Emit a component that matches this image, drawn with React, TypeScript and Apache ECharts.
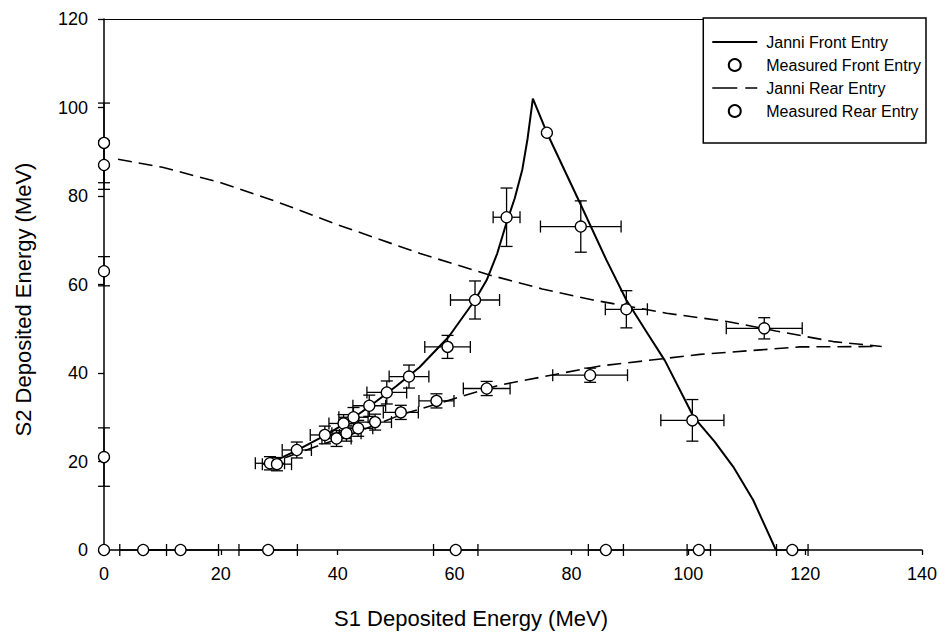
import React, { useEffect, useRef } from "react";
import * as echarts from "echarts";

// Janni Front Entry curve (S1, S2)
const janniFrontS1 = [28.1, 33, 38, 42, 46, 50, 54, 59, 63.5, 65.5, 67.3, 68.9, 70.3, 71.6, 72.5, 73.4, 75.8, 81.5, 86, 89.4, 93, 96, 100.9, 104.5, 107.7, 111.1, 115];
const janniFrontS2 = [19.4, 22.5, 26, 29.2, 33, 37, 41.3, 48.2, 56.5, 61, 67, 74, 79.5, 86, 93, 102, 94.3, 78.3, 65.5, 56.5, 49, 42.8, 30.1, 24.5, 18.8, 11.3, 0];

// Janni Rear Entry curve (S1, S2)
const janniRearS1 = [2.4, 10, 20, 30, 40, 54.1, 66.1, 75, 83.7, 96.3, 106.9, 115, 124.8, 133.1, 119.1, 102, 84.9, 67.8, 59.2, 50.7, 42.1, 33.5, 28.1];
const janniRearS2 = [88.3, 86.5, 83, 78.5, 73.5, 67, 62.1, 59, 56.5, 53.5, 51.6, 49.5, 47.1, 46, 45.9, 44.2, 41.6, 37.3, 33.9, 30.5, 26, 22.1, 19.4];

// Measured Front Entry
const frontS1 = [28.4, 33, 37.8, 41, 42.7, 45.4, 48.4, 52.2, 58.8, 63.5, 68.9, 75.8, 81.6, 89.4, 100.7, 0, 0, 0, 0, 13.1, 28.1, 60.2, 101.8, 117.8];
const frontS2 = [19.6, 22.6, 26, 28.6, 30, 32.6, 35.6, 39.2, 45.9, 56.5, 75.2, 94.3, 73.1, 54.4, 29.3, 92, 63, 21, 0, 0, 0, 0, 0, 0];
const frontS1Err = [2.5, 2.5, 2.5, 2.5, 2.5, 2.8, 3.4, 3.4, 3.9, 4.2, 2.3, 0, 6.9, 3.6, 5.4, 0, 0, 0, 0, 6.5, 5, 3.8, 2, 2.7];
const frontS2Err = [1.5, 1.8, 2, 2, 2.2, 2.4, 2.6, 2.6, 2.6, 4.3, 6.6, 0, 5.8, 4.2, 4.7, 9, 3.3, 6.6, 0, 0, 0, 0, 0, 0];

// Measured Rear Entry
const rearS1 = [29.6, 39.8, 41.5, 43.5, 46.4, 50.8, 56.9, 65.5, 83.2, 113, 0, 6.7, 85.9];
const rearS2 = [19.4, 25.2, 26.4, 27.5, 28.9, 31.1, 33.7, 36.5, 39.5, 50.1, 87, 0, 0];
const rearS1Err = [2.5, 2.5, 2.5, 2.5, 2.8, 3, 3, 4, 6.4, 6.5, 0, 4, 3];
const rearS2Err = [1.5, 1.8, 1.8, 1.8, 1.8, 1.6, 1.6, 1.6, 1.6, 2.4, 5.5, 0, 0];

const xMin = 0, xMax = 140, xStep = 20;
const yMin = 0, yMax = 120, yStep = 20;

const FONT = "'Liberation Sans', Arial, sans-serif";

const zip = (a: number[], b: number[]) => a.map((v, i) => [v, b[i]]);
const zip4 = (a: number[], b: number[], c: number[], d: number[]) => a.map((v, i) => [v, b[i], c[i], d[i]]);

export default function App() {
  const ref = useRef<HTMLDivElement>(null);
  useEffect(() => {
    const chart = echarts.init(ref.current!, null, { renderer: "svg" });
    const errStyle = { stroke: "#000", lineWidth: 1.3 };
    const cap = 6;
    const renderErr = (_p: any, api: any) => {
      const x = api.value(0), y = api.value(1), ex = api.value(2), ey = api.value(3);
      const c = api.coord([x, y]);
      const children: any[] = [];
      if (ex > 0) {
        const l = api.coord([x - ex, y]);
        const r = api.coord([x + ex, y]);
        children.push({ type: "line", shape: { x1: l[0], y1: c[1], x2: r[0], y2: c[1] }, style: errStyle });
        children.push({ type: "line", shape: { x1: l[0], y1: c[1] - cap, x2: l[0], y2: c[1] + cap }, style: errStyle });
        children.push({ type: "line", shape: { x1: r[0], y1: c[1] - cap, x2: r[0], y2: c[1] + cap }, style: errStyle });
      }
      if (ey > 0) {
        const t = api.coord([x, y + ey]);
        const b = api.coord([x, y - ey]);
        children.push({ type: "line", shape: { x1: c[0], y1: t[1], x2: c[0], y2: b[1] }, style: errStyle });
        children.push({ type: "line", shape: { x1: c[0] - cap, y1: t[1], x2: c[0] + cap, y2: t[1] }, style: errStyle });
        children.push({ type: "line", shape: { x1: c[0] - cap, y1: b[1], x2: c[0] + cap, y2: b[1] }, style: errStyle });
      }
      return { type: "group", children };
    };
    const markerStyle = { color: "#fff", borderColor: "#000", borderWidth: 1.3, opacity: 1 };
    const option: any = {
      animation: false,
      backgroundColor: "#fff",
      textStyle: { fontFamily: FONT },
      grid: { left: 104, top: 19, right: 23, bottom: 86, containLabel: false },
      legend: {
        orient: "vertical",
        right: 19,
        top: 18,
        padding: [16, 5, 24, 9],
        itemGap: 7,
        itemWidth: 45,
        itemHeight: 12,
        borderColor: "#000",
        borderWidth: 1.5,
        backgroundColor: "#fff",
        textStyle: { fontFamily: FONT, fontSize: 16, color: "#000", padding: [0, 0, 0, 4] },
        data: [
          { name: "Janni Front Entry", icon: "path://M0,0H45V2H0Z" },
          { name: "Measured Front Entry" },
          { name: "Janni Rear Entry", icon: "path://M0,0H25V1.6H0Z M33,0H45V1.6H33Z" },
          { name: "Measured Rear Entry" },
        ],
      },
      xAxis: [
        {
          type: "value",
          min: xMin,
          max: xMax,
          interval: xStep,
          name: "S1 Deposited Energy (MeV)",
          nameLocation: "middle",
          nameGap: 57,
          nameTextStyle: { fontFamily: FONT, fontSize: 22, color: "#000", padding: [0, 84, 0, 0] },
          axisLine: { show: true, lineStyle: { color: "#000", width: 1.5 } },
          axisTick: { show: true, length: 5, lineStyle: { color: "#000", width: 1.3 } },
          axisLabel: { fontFamily: FONT, fontSize: 18, color: "#000", margin: 15 },
          splitLine: { show: false },
        },
        {
          type: "value",
          position: "top",
          min: xMin,
          max: xMax,
          interval: xStep,
          axisLine: { show: true, onZero: false, lineStyle: { color: "#000", width: 1.2 } },
          axisTick: { show: false },
          axisLabel: { show: false },
          splitLine: { show: false },
        },
      ],
      yAxis: {
        type: "value",
        min: yMin,
        max: yMax,
        interval: yStep,
        name: "S2 Deposited Energy (MeV)",
        nameLocation: "middle",
        nameGap: 70,
        nameTextStyle: { fontFamily: FONT, fontSize: 22, color: "#000", padding: [0, 30, 0, 0] },
        axisLine: { show: true, lineStyle: { color: "#000", width: 1.5 } },
        axisTick: { show: true, length: 6, lineStyle: { color: "#000", width: 1.3 } },
        axisLabel: { fontFamily: FONT, fontSize: 18, color: "#000", margin: 16 },
        splitLine: { show: false },
      },
      series: [
        {
          name: "Janni Front Entry",
          type: "line",
          data: zip(janniFrontS1, janniFrontS2),
          symbol: "none",
          lineStyle: { color: "#000", width: 2 },
          itemStyle: { color: "#000" },
          z: 2,
        },
        {
          name: "Janni Rear Entry",
          type: "line",
          data: zip(janniRearS1, janniRearS2),
          symbol: "none",
          lineStyle: { color: "#000", width: 1.6, type: [14, 7] },
          itemStyle: { color: "#000" },
          z: 2,
        },
        {
          name: "frontErr",
          type: "custom",
          renderItem: renderErr,
          encode: { x: 0, y: 1 },
          data: zip4(frontS1, frontS2, frontS1Err, frontS2Err),
          clip: false,
          z: 3,
        },
        {
          name: "rearErr",
          type: "custom",
          renderItem: renderErr,
          encode: { x: 0, y: 1 },
          data: zip4(rearS1, rearS2, rearS1Err, rearS2Err),
          clip: false,
          z: 3,
        },
        {
          name: "Measured Front Entry",
          type: "scatter",
          data: zip(frontS1, frontS2),
          symbol: "circle",
          symbolSize: 11,
          itemStyle: markerStyle,
          clip: false,
          z: 4,
        },
        {
          name: "Measured Rear Entry",
          type: "scatter",
          data: zip(rearS1, rearS2),
          symbol: "circle",
          symbolSize: 11,
          itemStyle: markerStyle,
          clip: false,
          z: 4,
        },
      ],
    };
    chart.setOption(option);
    return () => chart.dispose();
  }, []);
  return <div ref={ref} style={{ position: "fixed", left: 0, top: 0, width: 945, height: 636 }} />;
}
